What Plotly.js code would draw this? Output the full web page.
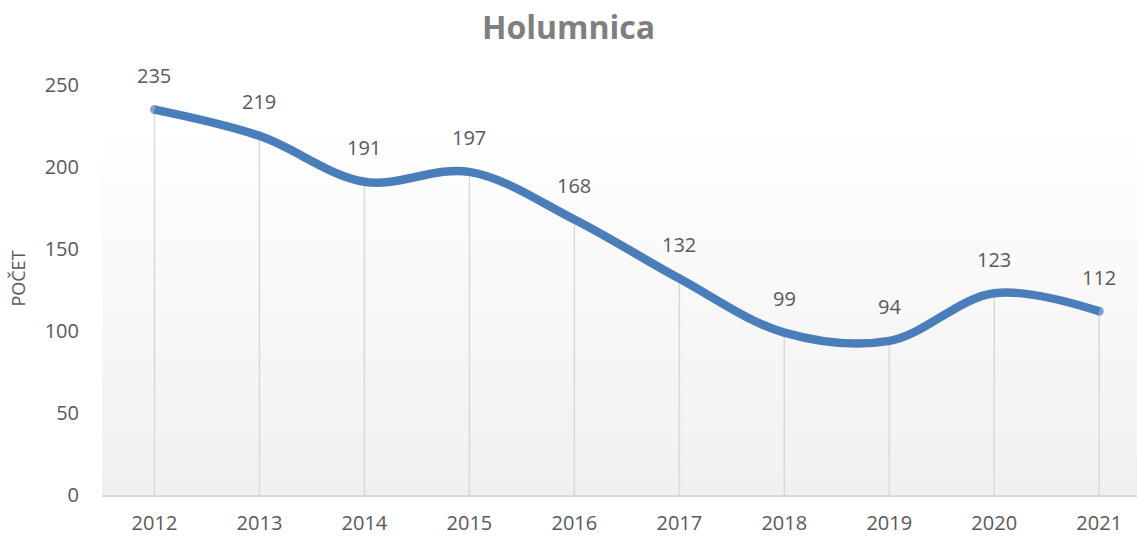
<!DOCTYPE html>
<html>
<head>
<meta charset="utf-8">
<script src="https://cdn.plot.ly/plotly-3.0.1.min.js"></script>
<style>html,body{margin:0;padding:0;background:#fff;}#chart{width:1137px;height:536px;}</style>
</head>
<body>
<div id="chart"></div>
<script>
const years = ["2012","2013","2014","2015","2016","2017","2018","2019","2020","2021"];
const counts = [235, 219, 191, 197, 168, 132, 99, 94, 123, 112];
const yTicks = [0, 50, 100, 150, 200, 250];
const chartTitle = "Holumnica";
const yTitle = "POČET";

const grad = 'data:image/svg+xml;utf8,' + encodeURIComponent(
  '<svg xmlns="http://www.w3.org/2000/svg" width="100" height="100" preserveAspectRatio="none">' +
  '<defs><linearGradient id="g" x1="0" y1="0" x2="0" y2="1">' +
  '<stop offset="0" stop-color="#ffffff"/><stop offset="0.15" stop-color="#ffffff"/><stop offset="1" stop-color="#f0f0f0"/></linearGradient></defs>' +
  '<rect width="100" height="100" fill="url(#g)"/></svg>');

const dropLines = {
  x: years, y: counts, type: 'scatter', mode: 'markers',
  marker: {size: 1, opacity: 0},
  error_y: {type: 'data', symmetric: false, array: counts.map(() => 0), arrayminus: counts,
            width: 0, color: '#d9d9d9', thickness: 1.5},
  hoverinfo: 'skip', showlegend: false
};
const line = {
  x: years, y: counts, type: 'scatter', mode: 'lines+markers',
  line: {shape: 'spline', smoothing: 1, color: '#4a7ebb', width: 8.5},
  marker: {color: '#4a7ebb', size: counts.map((v, i) => (i === 0 || i === counts.length - 1) ? 9 : 0), line: {width: 0}},
  showlegend: false
};

const annotations = years.map((yr, i) => ({
  x: i, y: counts[i], xref: 'x', yref: 'y', text: String(counts[i]), showarrow: false,
  yshift: 34, font: {family: 'Open Sans, sans-serif', size: 20, color: '#595959'}
}));

const layout = {
  width: 1137, height: 536,
  margin: {l: 102, r: 0, t: 62, b: 41},
  paper_bgcolor: '#ffffff', plot_bgcolor: 'rgba(0,0,0,0)',
  title: {text: chartTitle, x: 0.5, xref: 'container', xanchor: 'center',
          y: 0.948, yref: 'container', yanchor: 'middle',
          font: {family: 'Open Sans, sans-serif', size: 32, color: '#7f7f7f', weight: 'bold'}},
  xaxis: {type: 'category', range: [-0.5, 9.36], showgrid: false, zeroline: false,
          showline: true, linecolor: '#d9d9d9', linewidth: 1.5, ticks: '', ticklabelstandoff: 9,
          tickfont: {family: 'Open Sans, sans-serif', size: 20, color: '#595959'}},
  yaxis: {range: [0, 264], tickvals: yTicks, showgrid: false, zeroline: false, showline: false,
          ticks: '', ticklabelstandoff: 22,
          tickfont: {family: 'Open Sans, sans-serif', size: 20, color: '#595959'},
          title: {text: yTitle, standoff: 14, font: {family: 'Open Sans, sans-serif', size: 18, color: '#595959'}}},
  images: [{source: grad, xref: 'paper', yref: 'paper', x: 0, y: 1, sizex: 1, sizey: 1,
            sizing: 'stretch', layer: 'below', xanchor: 'left', yanchor: 'top'}],
  annotations: annotations
};

Plotly.newPlot('chart', [dropLines, line], layout, {displayModeBar: false, staticPlot: true});
</script>
</body>
</html>
